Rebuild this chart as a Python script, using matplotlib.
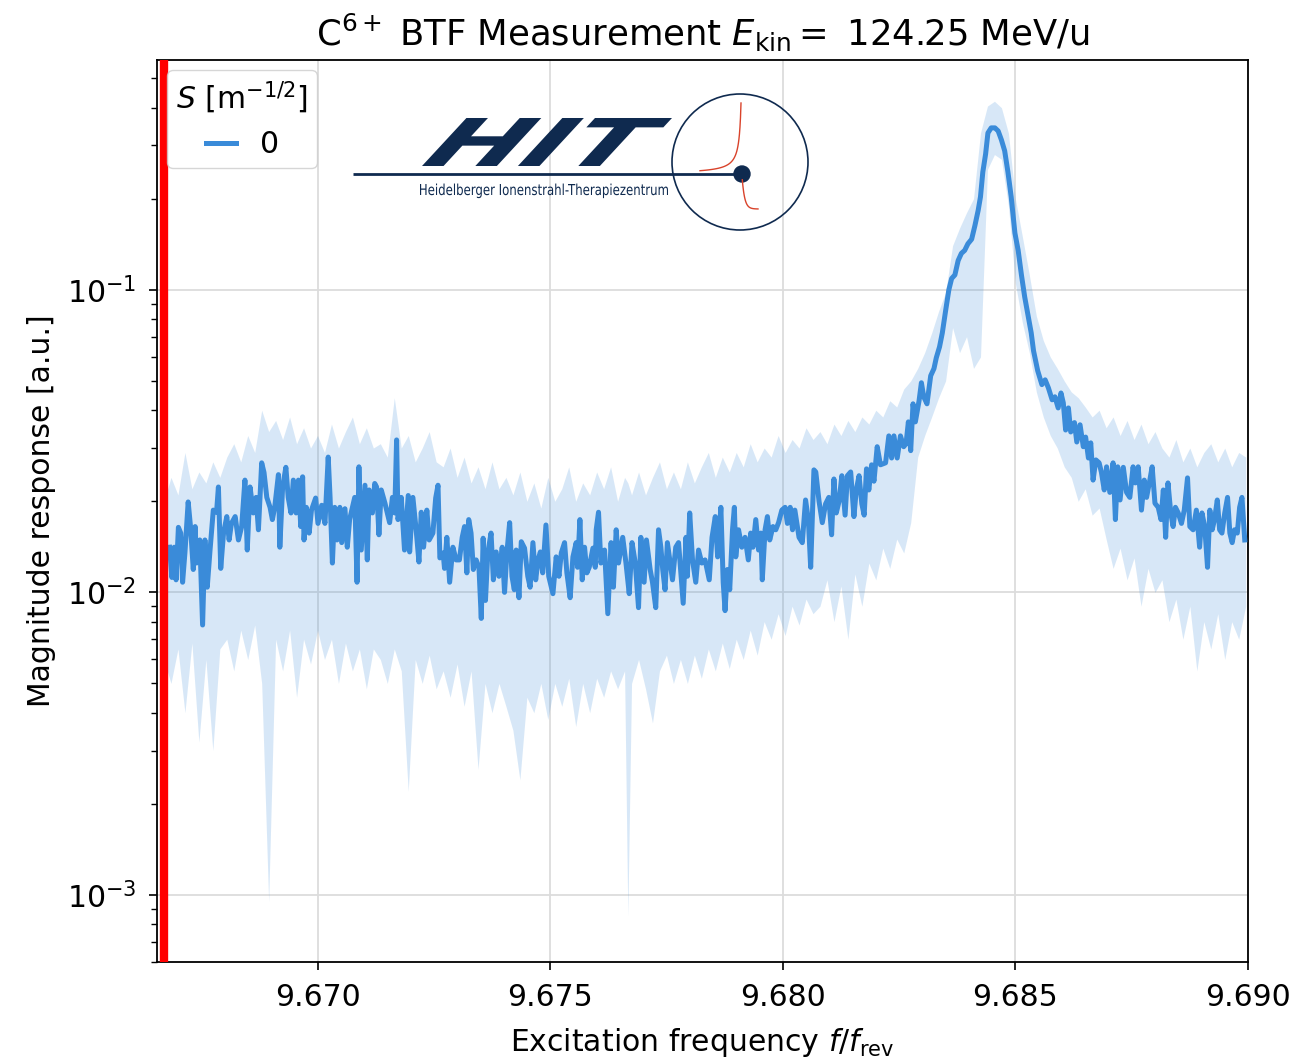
import numpy as np
import matplotlib
matplotlib.use("Agg")
import matplotlib.pyplot as plt
from matplotlib.textpath import TextPath
from matplotlib.font_manager import FontProperties
from matplotlib.patches import PathPatch, Circle
from matplotlib.transforms import Affine2D

# ---------------- data ----------------
freq = [
    9.66682, 9.66687, 9.66692, 9.66696, 9.66701, 9.66706, 9.66710, 9.66715, 9.66722, 9.66727,
    9.66733, 9.66737, 9.66740, 9.66747, 9.66753, 9.66758, 9.66763, 9.66769, 9.66776, 9.66783,
    9.66787, 9.66792, 9.66798, 9.66805, 9.66810, 9.66815, 9.66823, 9.66830, 9.66837, 9.66844,
    9.66849, 9.66855, 9.66862, 9.66868, 9.66873, 9.66880, 9.66885, 9.66891, 9.66898, 9.66903,
    9.66908, 9.66916, 9.66919, 9.66925, 9.66932, 9.66937, 9.66943, 9.66948, 9.66954, 9.66959,
    9.66964, 9.66968, 9.66971, 9.66976, 9.66982, 9.66987, 9.66996, 9.67001, 9.67009, 9.67016,
    9.67023, 9.67027, 9.67032, 9.67037, 9.67042, 9.67048, 9.67052, 9.67059, 9.67064, 9.67069,
    9.67075, 9.67080, 9.67085, 9.67089, 9.67094, 9.67102, 9.67107, 9.67111, 9.67118, 9.67123,
    9.67127, 9.67132, 9.67137, 9.67145, 9.67155, 9.67161, 9.67166, 9.67170, 9.67173, 9.67180,
    9.67187, 9.67195, 9.67198, 9.67205, 9.67212, 9.67218, 9.67223, 9.67228, 9.67235, 9.67240,
    9.67248, 9.67254, 9.67259, 9.67263, 9.67270, 9.67273, 9.67278, 9.67284, 9.67291, 9.67298,
    9.67305, 9.67311, 9.67316, 9.67321, 9.67325, 9.67330, 9.67335, 9.67341, 9.67347, 9.67352,
    9.67356, 9.67361, 9.67366, 9.67373, 9.67378, 9.67384, 9.67390, 9.67397, 9.67402, 9.67407,
    9.67413, 9.67418, 9.67423, 9.67427, 9.67433, 9.67438, 9.67445, 9.67452, 9.67457, 9.67463,
    9.67469, 9.67474, 9.67479, 9.67484, 9.67491, 9.67497, 9.67506, 9.67513, 9.67519, 9.67524,
    9.67531, 9.67536, 9.67543, 9.67549, 9.67556, 9.67559, 9.67564, 9.67569, 9.67574, 9.67579,
    9.67584, 9.67592, 9.67597,
    9.67599, 9.67604, 9.67609, 9.67617, 9.67624, 9.67631, 9.67636, 9.67642, 9.67647, 9.67656,
    9.67663, 9.67670, 9.67676, 9.67683, 9.67690, 9.67695, 9.67702, 9.67707, 9.67715, 9.67720,
    9.67727, 9.67733, 9.67738, 9.67742, 9.67747, 9.67752, 9.67758, 9.67763, 9.67770, 9.67776,
    9.67781, 9.67786, 9.67792, 9.67795, 9.67800, 9.67806, 9.67813, 9.67819, 9.67826, 9.67833,
    9.67842, 9.67848, 9.67855, 9.67860, 9.67867, 9.67872, 9.67876, 9.67881, 9.67886, 9.67892,
    9.67896, 9.67899, 9.67905, 9.67912, 9.67919, 9.67926, 9.67931, 9.67936, 9.67942, 9.67948,
    9.67953, 9.67956, 9.67962, 9.67967, 9.67972, 9.67979, 9.67985, 9.67991, 9.67998, 9.68005,
    9.68010, 9.68016, 9.68021, 9.68026, 9.68035, 9.68042, 9.68049, 9.68055, 9.68060, 9.68067,
    9.68071, 9.68078, 9.68085, 9.68092, 9.68099, 9.68105, 9.68110, 9.68115, 9.68121, 9.68127,
    9.68134, 9.68139, 9.68146, 9.68153, 9.68158, 9.68164, 9.68170, 9.68175, 9.68180, 9.68185,
    9.68191, 9.68196, 9.68203, 9.68210, 9.68221, 9.68228, 9.68234, 9.68239, 9.68246, 9.68253,
    9.68260, 9.68265, 9.68270, 9.68275, 9.68280, 9.68285, 9.68293, 9.68298, 9.68303, 9.68310,
    9.68318, 9.68325, 9.68330, 9.68337, 9.68343, 9.68350, 9.68357, 9.68363, 9.68370, 9.68377,
    9.68384, 9.68391, 9.68398, 9.68406, 9.68413, 9.68420, 9.68425, 9.68430, 9.68436, 9.68441,
    9.68448, 9.68456, 9.68463, 9.68470, 9.68477, 9.68484, 9.68491, 9.68499, 9.68506, 9.68513,
    9.68520, 9.68527, 9.68534, 9.68539, 9.68548,
    9.68557, 9.68564, 9.68571, 9.68579, 9.68585, 9.68592, 9.68598, 9.68603, 9.68608, 9.68614,
    9.68619, 9.68627, 9.68632, 9.68639, 9.68646, 9.68651, 9.68657, 9.68662, 9.68667, 9.68673,
    9.68680, 9.68685, 9.68691, 9.68696, 9.68703, 9.68710, 9.68715, 9.68720, 9.68725, 9.68732,
    9.68739, 9.68746, 9.68753, 9.68758, 9.68764, 9.68771, 9.68777, 9.68782, 9.68789, 9.68794,
    9.68800, 9.68807, 9.68813, 9.68818, 9.68823, 9.68828, 9.68834, 9.68839, 9.68844, 9.68850,
    9.68857, 9.68863, 9.68870, 9.68875, 9.68882, 9.68889, 9.68896, 9.68901, 9.68907, 9.68913,
    9.68918, 9.68923, 9.68928, 9.68934, 9.68939, 9.68944, 9.68950, 9.68956, 9.68961, 9.68966,
    9.68971, 9.68977, 9.68982, 9.68987, 9.68993,
]

# magnitude response in units of 1e-3
mag_milli = [
    14.1, 11.2, 14.1, 11.0, 16.4, 15.7, 10.8, 13.5, 19.9, 16.5,
    11.9, 16.5, 12.5, 14.9, 7.8, 14.9, 10.4, 13.8, 18.7, 18.4,
    22.3, 12.0, 15.7, 17.8, 14.9, 16.9, 17.8, 14.9, 16.5, 23.5,
    13.8, 22.3, 18.3, 20.6, 16.1, 26.8, 24.9, 20.6, 19.1, 17.4,
    19.1, 24.5, 14.1, 22.3, 25.9, 20.6, 18.3, 23.5, 18.3, 23.5,
    16.5, 24.1, 14.9, 19.1, 15.7, 18.7, 20.5, 16.9, 19.4, 16.9,
    28.0, 20.6, 12.5, 19.1, 14.9, 19.1, 14.6, 18.9, 14.1, 17.4,
    19.1, 20.6, 10.8, 26.0, 13.8, 22.6, 12.8, 21.8, 18.3, 22.9,
    22.3, 15.5, 21.8, 19.7, 17.0, 20.6, 18.3, 31.9, 17.4, 20.6,
    13.8, 20.9, 13.6, 20.6, 16.1, 12.6, 18.4, 14.1, 18.7, 14.9,
    15.7, 20.5, 22.6, 13.0, 13.5, 12.0, 15.2, 10.8, 14.1, 12.8,
    12.8, 15.2, 16.5, 11.6, 17.4, 15.7, 11.9, 12.8, 12.1, 8.2,
    15.1, 9.4, 13.5, 15.7, 11.0, 13.6, 11.3, 14.1, 10.0, 13.5,
    17.0, 11.3, 10.2, 13.8, 9.6, 14.7, 14.0, 11.3, 10.4, 14.6,
    11.0, 12.8, 13.6, 11.6, 16.7, 11.3, 9.9, 13.1, 11.3, 13.5,
    14.6, 11.6, 9.6, 13.1, 14.6, 12.1, 17.4, 11.0, 14.1, 11.6,
    12.1, 14.0, 12.1,
    16.1, 18.4, 12.5, 13.8, 8.5, 14.6, 10.4, 16.1, 12.5, 15.2,
    12.5, 9.9, 14.6, 12.5, 8.9, 15.2, 10.8, 14.9, 11.9, 10.8,
    8.9, 16.1, 14.1, 11.9, 10.2, 14.6, 12.5, 11.0, 14.1, 14.6,
    11.6, 9.2, 15.2, 11.3, 18.3, 12.8, 10.8, 13.8, 12.5, 12.8,
    11.0, 15.2, 17.8, 13.1, 19.1, 10.8, 8.7, 11.9, 10.2, 16.1,
    19.1, 13.1, 16.1, 14.1, 15.2, 12.8, 15.7, 14.1, 17.4, 13.8,
    15.7, 11.0, 16.1, 17.8, 14.9, 16.5, 16.1, 17.0, 18.7, 19.1,
    16.9, 19.1, 16.1, 18.7, 15.2, 14.6, 20.2, 17.4, 12.1, 25.4,
    25.0, 20.0, 17.0, 19.6, 20.6, 15.5, 23.7, 18.3, 20.0, 24.3,
    18.0, 24.3, 25.0, 17.8, 21.8, 24.3, 19.6, 18.0, 25.6, 21.8,
    26.4, 23.3, 30.3, 26.4, 26.8, 32.9, 27.8, 32.9, 27.8, 32.9,
    30.3, 31.0, 36.6, 29.4, 42.0, 36.6, 43.0, 49.3, 44.3, 42.0,
    52.0, 54.9, 59.6, 64.8, 72.1, 85.2, 100, 109, 112, 125,
    132, 135, 142, 147, 163, 183, 203, 245, 281, 330,
    343, 343, 335, 313, 288, 245, 203, 154, 135, 112,
    94.8, 82.7, 72.1, 62.9, 54.0,
    48.6, 50.4, 47.4, 43.3, 44.3, 40.7, 45.6, 42.3, 34.4, 40.7,
    33.9, 36.4, 31.4, 35.8, 30.3, 32.6, 27.8, 31.2, 23.5, 27.4,
    26.8, 24.9, 21.8, 26.0, 21.4, 26.8, 17.4, 26.0, 20.2, 25.9,
    21.4, 20.6, 26.0, 23.0, 26.0, 18.7, 23.5, 20.6, 23.5, 26.0,
    19.7, 19.1, 17.4, 21.8, 15.2, 23.0, 18.3, 16.5, 19.1, 18.3,
    16.9, 18.7, 23.9, 16.5, 16.1, 18.7, 14.1, 18.3, 16.5, 12.1,
    18.7, 16.1, 17.4, 20.2, 16.1, 15.7, 18.3, 20.6, 15.7, 14.6,
    16.1, 15.7, 19.1, 20.6, 14.9,
]

band_freq = [
    9.66670, 9.66685, 9.66700, 9.66715, 9.66730, 9.66745, 9.66760, 9.66775, 9.66790, 9.66805,
    9.66820, 9.66835, 9.66850, 9.66865, 9.66880, 9.66895, 9.66910, 9.66925, 9.66940, 9.66955,
    9.66970, 9.66985, 9.67000, 9.67015, 9.67030, 9.67045, 9.67060, 9.67075, 9.67090, 9.67105,
    9.67120, 9.67135, 9.67150, 9.67165, 9.67180, 9.67195, 9.67210, 9.67225, 9.67240, 9.67255,
    9.67270, 9.67285, 9.67300, 9.67315, 9.67330, 9.67345, 9.67360, 9.67375, 9.67390, 9.67405,
    9.67420, 9.67435, 9.67450, 9.67465, 9.67480, 9.67495, 9.67510, 9.67525, 9.67540, 9.67555,
    9.67570, 9.67585, 9.67600, 9.67615, 9.67630, 9.67645, 9.67660, 9.67667, 9.67675, 9.67690, 9.67705,
    9.67720, 9.67735, 9.67750, 9.67765, 9.67780, 9.67795, 9.67810, 9.67825, 9.67840, 9.67855,
    9.67870, 9.67885, 9.67900, 9.67915, 9.67930, 9.67945, 9.67960, 9.67975, 9.67990, 9.68005,
    9.68020, 9.68035, 9.68050, 9.68065, 9.68080, 9.68095, 9.68110, 9.68125, 9.68140, 9.68155,
    9.68170, 9.68185, 9.68200, 9.68215, 9.68230, 9.68245, 9.68260, 9.68275, 9.68290, 9.68305,
    9.68320, 9.68335, 9.68350, 9.68365, 9.68380, 9.68395, 9.68410, 9.68425, 9.68440, 9.68455,
    9.68470, 9.68485, 9.68500, 9.68515, 9.68530, 9.68545, 9.68560, 9.68575, 9.68590, 9.68605,
    9.68620, 9.68635, 9.68650, 9.68665, 9.68680, 9.68695, 9.68710, 9.68725, 9.68740, 9.68755,
    9.68770, 9.68785, 9.68800, 9.68815, 9.68830, 9.68845, 9.68860, 9.68875, 9.68890, 9.68905,
    9.68920, 9.68935, 9.68950, 9.68965, 9.68980, 9.68995,
]

band_hi_milli = [
    20, 24, 21, 29, 22, 25, 23, 27, 24, 28,
    31, 27, 33, 29, 40, 34, 37, 32, 38, 31,
    35, 30, 33, 29, 36, 30, 34, 38, 31, 35,
    30, 31, 28, 44, 30, 33, 27, 30, 34, 27,
    26, 30, 24, 28, 23, 26, 22, 27, 22, 24,
    21, 25, 20, 23, 19, 24, 20, 22, 26, 20,
    23, 21, 25, 22, 26, 20, 24, 23, 21, 25, 21,
    24, 27, 22, 25, 22, 27, 23, 26, 29, 24,
    28, 25, 29, 26, 31, 27, 30, 28, 33, 29,
    32, 30, 35, 32, 34, 31, 36, 33, 37, 34,
    38, 36, 40, 38, 43, 41, 47, 50, 55, 62,
    72, 85, 98, 140, 160, 180, 200, 330, 405, 420,
    400, 330, 200, 150, 112, 82, 68, 60, 55, 50,
    46, 44, 41, 38, 40, 35, 38, 33, 37, 32,
    36, 31, 34, 30, 28, 32, 27, 30, 26, 29,
    31, 27, 30, 26, 29, 28,
]

band_lo_milli = [
    6.0, 5.0, 6.5, 4.0, 6.8, 3.2, 6.0, 3.0, 6.5, 7.0,
    5.5, 7.5, 6.0, 7.8, 5.0, 0.95, 7.0, 5.5, 7.5, 4.5,
    7.0, 5.8, 7.5, 6.0, 7.0, 5.0, 6.8, 5.5, 6.5, 4.8,
    6.5, 6.0, 5.0, 6.5, 5.5, 2.2, 6.0, 5.0, 6.2, 4.8,
    5.5, 4.5, 5.8, 4.2, 5.5, 2.6, 5.0, 4.0, 5.0, 4.2,
    3.5, 2.4, 4.5, 4.0, 5.0, 3.8, 5.0, 4.2, 5.2, 3.6,
    5.0, 4.0, 5.2, 4.5, 5.5, 4.8, 5.5, 0.85, 5.0, 6.0, 4.8,
    3.7, 5.5, 6.2, 5.0, 6.0, 5.0, 6.2, 5.2, 6.5, 5.5,
    6.8, 5.6, 7.0, 6.0, 7.5, 6.2, 8.0, 7.0, 8.5, 7.2,
    9.0, 7.8, 9.5, 8.5, 9.0, 11.0, 8.0, 10.5, 7.0, 11.5,
    9.0, 12.5, 11.0, 14.0, 12.0, 15.0, 13.5, 17.0, 28, 33,
    38, 44, 50, 75, 62, 70, 55, 60, 250, 280,
    270, 190, 105, 78, 62, 46, 38, 33, 30, 26,
    24, 20, 22, 18, 19, 15, 12, 14, 11, 13,
    9, 12, 10, 11, 8, 9.5, 7, 9, 5.5, 8,
    6.5, 8.5, 6, 8, 7, 9,
]

marker_freq = 9.66671          # red vertical marker
legend_label = "0"
xticks = [9.670, 9.675, 9.680, 9.685, 9.690]

# ---------------- figure ----------------
FS = 21.5
plt.rcParams["font.family"] = ["DejaVu Sans"]
plt.rcParams["mathtext.fontset"] = "dejavusans"

fig = plt.figure(figsize=(13.01, 10.59), dpi=100)
ax = fig.add_axes([157 / 1301, 1 - 962 / 1059, (1248 - 157) / 1301, (962 - 60) / 1059])

line_color = "#3a8bd9"
mag = np.array(mag_milli) * 1e-3
ax.fill_between(band_freq, np.array(band_lo_milli) * 1e-3, np.array(band_hi_milli) * 1e-3,
                color=line_color, alpha=0.2, lw=0, zorder=2)
ax.plot(freq, mag, color=line_color, lw=3.6, label=legend_label, zorder=3,
        solid_joinstyle="round")
ax.axvline(marker_freq, color="red", lw=6, zorder=4)

ax.set_yscale("log")
ax.set_xlim(9.66655, 9.6900)
ax.set_ylim(6.0e-4, 0.575)
ax.set_xticks(xticks)
ax.set_xticklabels([f"{t:.3f}" for t in xticks])
ax.grid(True, which="major", color="#dcdcdc", lw=1.3)
ax.set_axisbelow(True)
ax.tick_params(axis="both", which="major", labelsize=FS, length=6, width=1.2, pad=9)
ax.tick_params(axis="both", which="minor", length=4, width=1.0)
for sp in ax.spines.values():
    sp.set_linewidth(1.3)

ax.set_title(r"C$^{6+}$ BTF Measurement $E_{\mathrm{kin}} =$ 124.25 MeV/u", fontsize=25.5, pad=10)
ax.set_xlabel(r"Excitation frequency $f/f_{\mathrm{rev}}$", fontsize=FS, labelpad=10)
ax.set_ylabel("Magnitude response [a.u.]", fontsize=FS, labelpad=8)

leg = ax.legend(title=r"$S$ [m$^{-1/2}$]", loc="upper left", fontsize=FS, title_fontsize=FS,
                borderaxespad=0.35, borderpad=0.3, handlelength=1.0, framealpha=0.8,
                edgecolor="#cccccc")

# ---------------- HIT logo (decoration, pixel frame) ----------------
navy = "#0f2a4f"
lax = fig.add_axes([0, 0, 1, 1], zorder=5)
lax.set_xlim(0, 1301)
lax.set_ylim(1059, 0)
lax.axis("off")
lax.patch.set_alpha(0)


def put_text(s, x0, x1, ybase, cap_h, weight, skew):
    tp = TextPath((0, 0), s, size=1, prop=FontProperties(family="DejaVu Sans", weight=weight))
    p = Affine2D().skew_deg(skew, 0).transform_path(tp)
    ext = p.get_extents()
    sx = (x1 - x0) / ext.width
    sy = cap_h / 0.729
    p2 = Affine2D().translate(-ext.x0, 0).scale(sx, -sy).translate(x0, ybase).transform_path(p)
    lax.add_patch(PathPatch(p2, fc=navy, ec="none"))


put_text("HIT", 422, 672, 166, 48, "heavy", 28)
put_text("Heidelberger Ionenstrahl-Therapiezentrum", 420, 668, 195, 11, "normal", 0)
lax.plot([353, 742], [174, 174], color=navy, lw=2.0, solid_capstyle="butt")
lax.add_patch(Circle((740, 162), 68, fill=False, ec=navy, lw=1.2))
xl = np.linspace(700, 741, 80)
lax.plot(xl, 174 - 142 / (743 - xl), color="#d9432b", lw=1.0)
xr = np.linspace(742.3, 758, 60)
lax.plot(xr, 209 - 33 * np.exp(-(xr - 742) / 2.5), color="#d9432b", lw=1.0)
lax.add_patch(Circle((742, 174), 8, color=navy))

fig.savefig("out.png", dpi=100)
